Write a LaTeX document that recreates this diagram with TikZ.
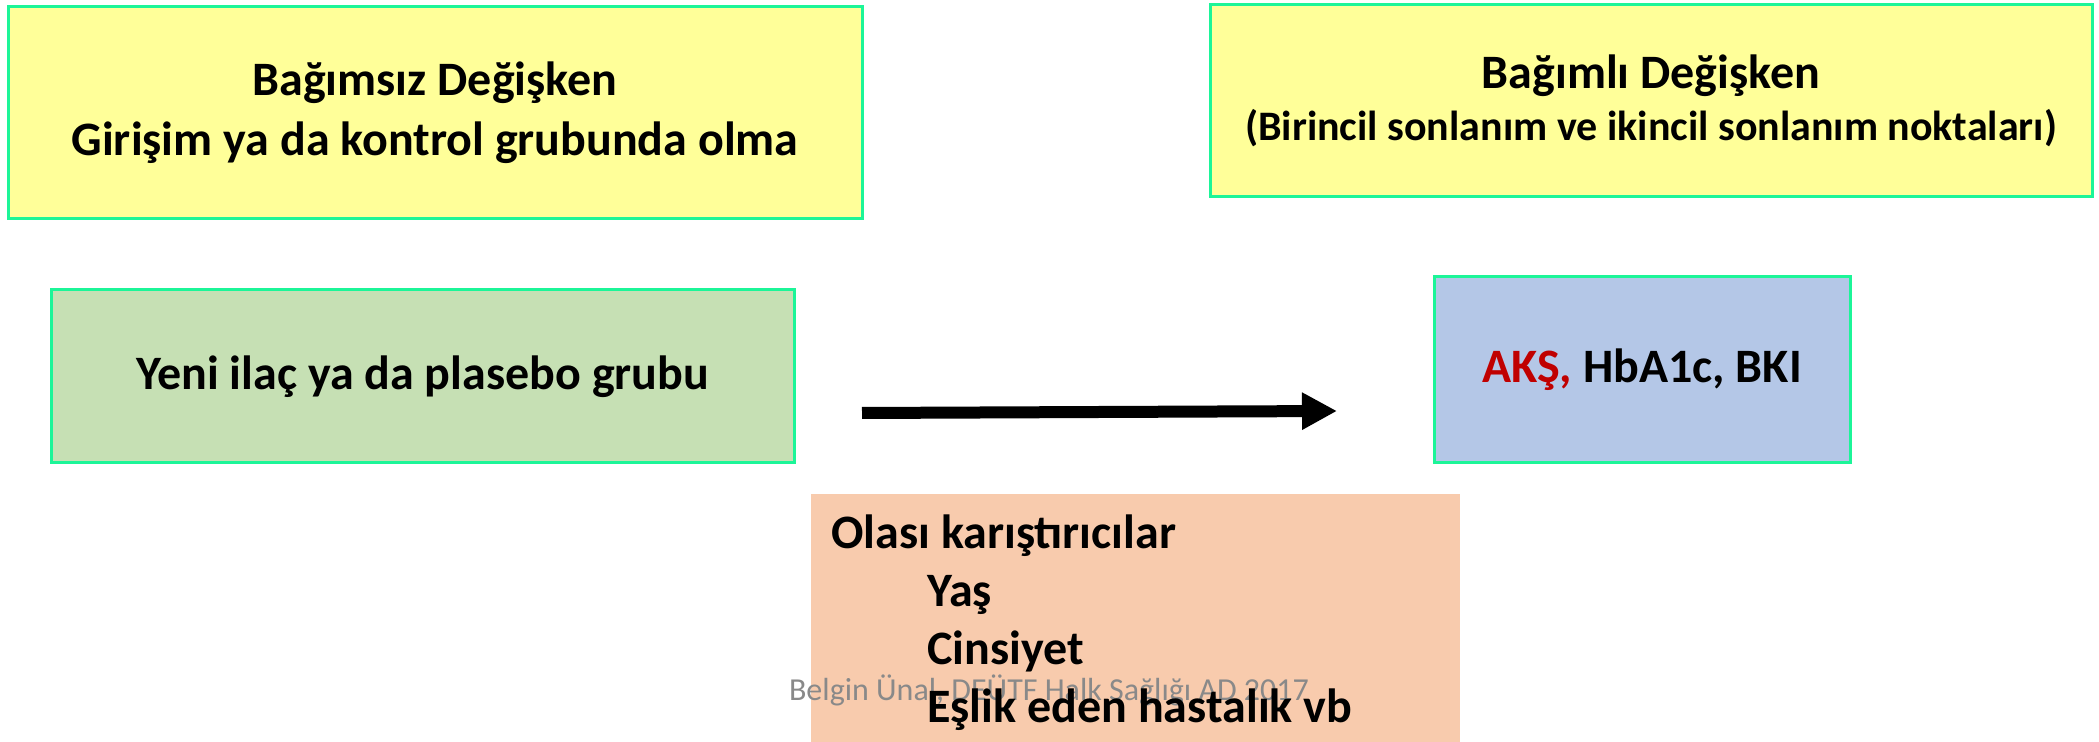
\documentclass[tikz,border=0pt]{standalone}
\usepackage{fontspec}
\setmainfont{Carlito}
\usetikzlibrary{arrows.meta}
\definecolor{Y}{RGB}{255, 255, 153}
\definecolor{G}{RGB}{198, 224, 180}
\definecolor{B}{RGB}{180, 199, 231}
\definecolor{O}{RGB}{248, 203, 173}
\definecolor{E}{RGB}{28, 245, 152}
\definecolor{R}{RGB}{192, 0, 0}
\definecolor{F}{RGB}{137, 137, 137}
\tikzset{
	kutu/.style={draw=E, line width=1.5pt, rectangle, inner sep=0pt, align=center, font=\fontsize{24}{30}\selectfont\bfseries},
	ok/.style={line width=6pt, -{Triangle[length=17.5pt, width=17.5pt]}},
}

\begin{document}
\begin{tikzpicture}[x=0.5pt, y=-0.5pt]
			\useasboundingbox (0,0) rectangle (2099,742);
			\node[kutu, fill=Y, minimum width=427pt, minimum height=106pt] (bagimsiz) at (435,113) {Bağımsız Değişken\\Girişim ya da kontrol grubunda olma};
			\node[kutu, fill=Y, minimum width=441pt, minimum height=96pt] (bagimli) at (1651,101) {Bağımlı Değişken\\[-4pt]{\fontsize{21}{26}\selectfont(Birincil sonlanım ve ikincil sonlanım noktaları)}};
			\node[kutu, fill=G, minimum width=371.5pt, minimum height=86.5pt] (grup) at (422.5,376.5) {Yeni ilaç ya da plasebo grubu};
			\node[kutu, fill=B, minimum width=208pt, minimum height=93pt] (sonuc) at (1642,370) {\textcolor{R}{AKŞ,} HbA1c, BKI};
			\fill[color=O] (811,494) rectangle (1460,750);
			\node[anchor=base, font=\fontsize{16}{19}\selectfont, text=F, inner sep=0pt] (dipnot) at (1049,700) {Belgin Ünal, DEÜTF Halk Sağlığı AD 2017};
			\node[anchor=base west, align=left, inner sep=0pt, font=\fontsize{24}{29}\selectfont\bfseries] (karistirici) at (831,722) {Olası karıştırıcılar\\\hspace{48pt}Yaş\\\hspace{48pt}Cinsiyet\\\hspace{48pt}Eşlik eden hastalık vb};
			\coordinate (okbas) at (862,413);
			\coordinate (okuc) at (1337,411);
			\draw[ok] (okbas) -- (okuc);
\end{tikzpicture}
\end{document}
